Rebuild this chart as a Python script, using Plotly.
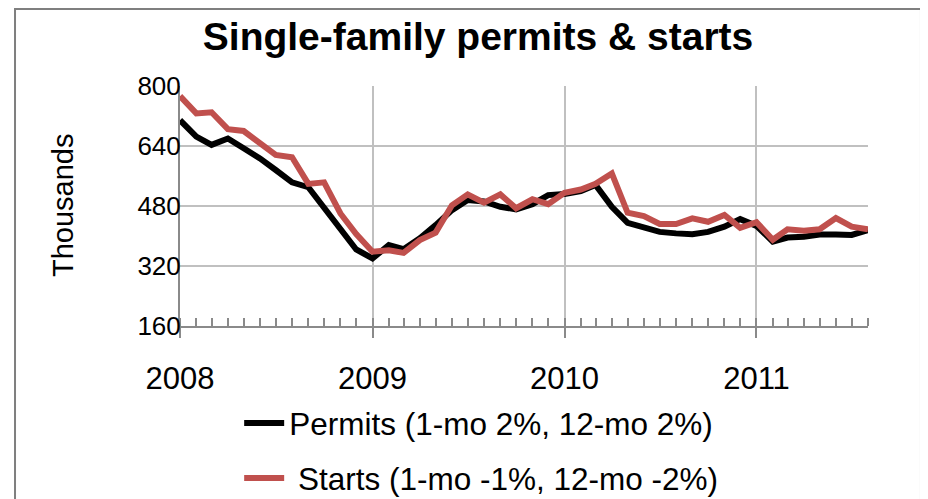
import pandas as pd
import plotly.graph_objects as go

# Monthly data, Jan 2008 .. Aug 2011 (thousands, SAAR)
months = pd.date_range("2008-01-01", "2011-08-01", freq="MS")
permits = [709, 665, 643, 660, 634, 607, 576, 543, 530, 474, 420, 364,
           340, 376, 365, 394, 429, 469, 496, 492, 478, 471, 485, 509,
           512, 520, 536, 478, 435, 424, 411, 407, 405, 411, 425, 445,
           427, 385, 396, 398, 404, 404, 403, 416]
starts = [773, 727, 730, 685, 680, 649, 616, 610, 539, 543, 460, 405,
          358, 362, 355, 389, 409, 482, 511, 489, 511, 474, 498, 485,
          515, 524, 539, 567, 462, 453, 432, 432, 447, 438, 456, 422,
          437, 390, 418, 414, 418, 448, 425, 418]
series_names = ["Permits (1-mo 2%, 12-mo 2%)", "\u00a0Starts (1-mo -1%, 12-mo -2%)"]
y_ticks = [160, 320, 480, 640, 800]

FONT = "Liberation Sans, Arial, sans-serif"
GRID = "#c0c0c0"
AXIS = "#8a8a8a"

fig = go.Figure()
fig.add_trace(go.Scatter(x=months, y=permits, mode="lines", name=series_names[0],
                         line=dict(color="#000000", width=6), legendgroup="a"))
fig.add_trace(go.Scatter(x=months, y=starts, mode="lines", name=series_names[1],
                         line=dict(color="#c0504d", width=6), legendgroup="b"))

# page has an 8px body margin, so figure coords = page coords - 8
fig.update_layout(
    width=928, height=499,
    margin=dict(l=172, r=68, t=78, b=181, autoexpand=False),
    paper_bgcolor="white", plot_bgcolor="white",
    font=dict(family=FONT, color="black"),
    title=dict(text="<b>Single-family permits & starts</b>", x=0.5065, xanchor="center",
               y=0.944, yanchor="middle", yref="container",
               font=dict(size=39, family=FONT, color="black")),
    showlegend=True,
    legend=dict(x=0.086, y=-0.292, xanchor="left", yanchor="top",
                font=dict(size=31.5, family=FONT), tracegroupgap=11,
                itemwidth=40, bgcolor="rgba(0,0,0,0)"),
    xaxis=dict(range=[months[0], months[-1]], tickformat="%Y", dtick="M12",
               tick0="2008-01-01", showgrid=True, gridcolor=GRID, gridwidth=2,
               showline=True, linecolor=AXIS, linewidth=2,
               ticks="outside", ticklen=10, tickcolor=AXIS, tickwidth=2,
               tickfont=dict(size=31, family=FONT), ticklabelstandoff=14,
               minor=dict(dtick="M1", ticks="inside", ticklen=8, tickcolor=AXIS,
                          tickwidth=1.5, showgrid=False),
               zeroline=False, automargin=False),
    yaxis=dict(range=[160, 800], tickvals=y_ticks, showgrid=True, gridcolor=GRID,
               gridwidth=2, showline=True, linecolor=AXIS, linewidth=2,
               ticks="", tickfont=dict(size=26, family=FONT), zeroline=False,
               ticklabelstandoff=-8, automargin=False),
    annotations=[dict(text="Thousands", xref="paper", yref="paper", x=-0.170, y=0.504,
                      textangle=-90, showarrow=False, font=dict(size=29, family=FONT),
                      xanchor="center", yanchor="middle")],
    shapes=[dict(type="rect", xref="paper", yref="paper", x0=-0.2398, x1=1.077,
                 y0=-1.0, y1=1.3208, line=dict(color="#7f7f7f", width=2),
                 fillcolor="rgba(0,0,0,0)", layer="below")],
)

fig.write_html("out.html")
